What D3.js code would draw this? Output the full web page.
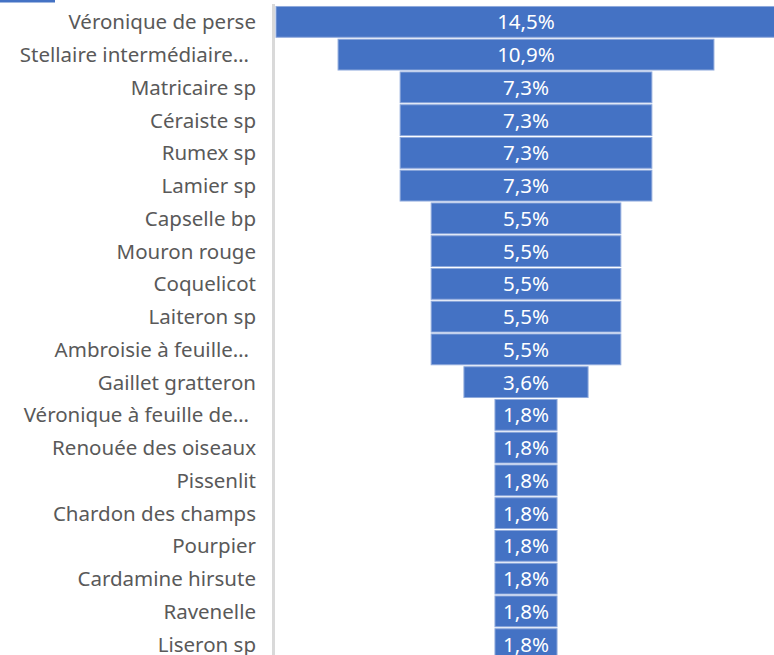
<!DOCTYPE html>
<html>
<head>
<meta charset="utf-8">
<script src="https://cdn.jsdelivr.net/npm/d3@7"></script>
<style>
  body { margin: 0; background: #fff; }
  svg { display: block; }
</style>
</head>
<body>
<div id="chart-area"></div>
<script>
// species names (as they appear, truncated by the chart)
const categories = [
    "Véronique de perse", "Stellaire intermédiaire…", "Matricaire sp", "Céraiste sp",
    "Rumex sp", "Lamier sp", "Capselle bp", "Mouron rouge", "Coquelicot",
    "Laiteron sp", "Ambroisie à feuille…", "Gaillet gratteron",
    "Véronique à feuille de…", "Renouée des oiseaux", "Pissenlit",
    "Chardon des champs", "Pourpier", "Cardamine hirsute", "Ravenelle", "Liseron sp"
]
// share of each species, in %
const values = [14.5, 10.9, 7.3, 7.3, 7.3, 7.3, 5.5, 5.5, 5.5, 5.5, 5.5, 3.6,
    1.8, 1.8, 1.8, 1.8, 1.8, 1.8, 1.8, 1.8]

const width = 774, height = 655
const centerX = 526

const svg = d3.select("#chart-area").append("svg")
    .attr("width", width)
    .attr("height", height)

// little blue piece left over at top-left
svg.append("rect")
    .attr("x", 0).attr("y", 0)
    .attr("width", 55).attr("height", 2.5)
    .attr("fill", "#4472c4")

const y = d3.scaleBand()
    .domain(categories)
    .range([5.5, 5.5 + categories.length * 32.75])
    .paddingInner(0.06)
    .paddingOuter(0.03)

// bar width from the value, bars centred around centerX
const w = d3.scaleLinear()
    .domain([0, 14.5])
    .range([0, 500])

// vertical axis line
svg.append("line")
    .attr("x1", 273.5).attr("x2", 273.5)
    .attr("y1", 4).attr("y2", height)
    .attr("stroke", "#d9d9d9")
    .attr("stroke-width", 3)

const rows = svg.selectAll("g.row")
    .data(categories.map((c, i) => ({ name: c, value: values[i] })))
    .enter().append("g")
    .attr("class", "row")

rows.append("rect")
    .attr("x", d => centerX - w(d.value) / 2)
    .attr("y", d => y(d.name))
    .attr("width", d => w(d.value))
    .attr("height", y.bandwidth())
    .attr("fill", "#4472c4")
    .attr("stroke", "#8faadc")
    .attr("stroke-width", 1)

rows.append("text")
    .attr("x", centerX)
    .attr("y", d => y(d.name) + y.bandwidth() / 2)
    .attr("dy", "0.36em")
    .attr("text-anchor", "middle")
    .attr("fill", "#fff")
    .style("font-family", "'Noto Sans', sans-serif")
    .style("font-size", "20.5px")
    .text(d => d.value.toFixed(1).replace(".", ",") + "%")

// category labels (truncated ones sit a bit more to the left)
rows.append("text")
    .attr("x", d => d.name.endsWith("…") ? 249 : 256)
    .attr("y", d => y(d.name) + y.bandwidth() / 2)
    .attr("dy", "0.36em")
    .attr("text-anchor", "end")
    .attr("fill", "#595959")
    .style("font-family", "'Noto Sans', sans-serif")
    .style("font-size", "20.5px")
    .text(d => d.name)
</script>
</body>
</html>
